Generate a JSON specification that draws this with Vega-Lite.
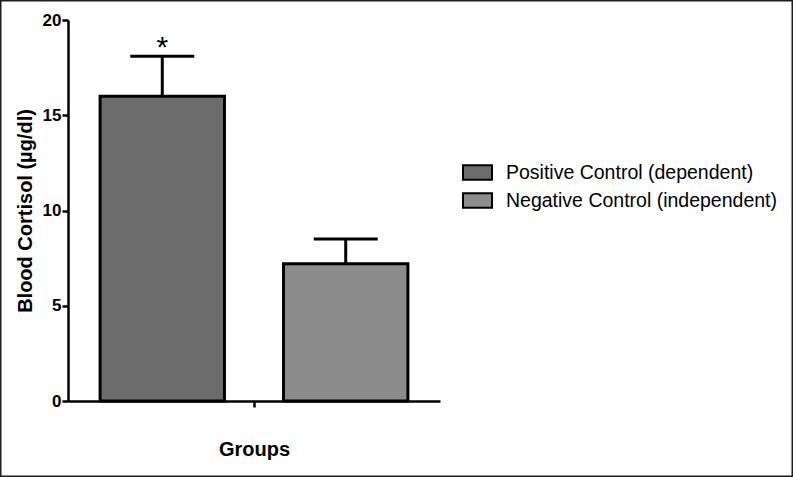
{
  "$schema": "https://vega.github.io/schema/vega-lite/v6.json",
  "width": 793,
  "height": 477,
  "autosize": "none",
  "padding": 0,
  "background": "white",
  "view": {"stroke": "#1e1e1e", "strokeWidth": 3, "fill": "white"},
  "config": {"font": "Liberation Sans"},
  "data": {
    "values": [
      {"group": "Positive Control (dependent)", "axis": "Groups", "mean": 16.0, "upper": 18.1, "sig": "*"},
      {"group": "Negative Control (independent)", "axis": "Groups", "mean": 7.2, "upper": 8.5, "sig": ""}
    ]
  },
  "encoding": {
    "x": {
      "field": "axis",
      "type": "nominal",
      "scale": {"range": [68, 440], "paddingInner": 0, "paddingOuter": 0},
      "axis": {
        "orient": "bottom",
        "offset": -76,
        "labels": false,
        "ticks": true,
        "tickSize": 6,
        "tickWidth": 2.5,
        "tickColor": "black",
        "domainColor": "black",
        "domainWidth": 2.5,
        "title": "Groups",
        "titleFont": "Liberation Sans",
        "titleFontSize": 20,
        "titleFontWeight": "bold",
        "titleColor": "black",
        "titlePadding": 31
      }
    },
    "xOffset": {
      "field": "group",
      "type": "nominal",
      "sort": ["Positive Control (dependent)", "Negative Control (independent)"],
      "scale": {"paddingInner": 0.322, "paddingOuter": 0.175}
    }
  },
  "layer": [
    {
      "mark": {"type": "bar", "stroke": "black", "strokeWidth": 3},
      "encoding": {
        "y": {
          "field": "mean",
          "type": "quantitative",
          "scale": {"domain": [0, 20], "range": [401, 20], "nice": false},
          "axis": {
            "orient": "left",
            "offset": -68,
            "values": [0, 5, 10, 15, 20],
            "grid": false,
            "tickSize": 6,
            "tickWidth": 2.5,
            "tickColor": "black",
            "domainColor": "black",
            "domainWidth": 2.5,
            "labelFont": "Liberation Sans",
            "labelFontSize": 17,
            "labelFontWeight": "bold",
            "labelColor": "black",
            "labelPadding": 1,
            "title": "Blood Cortisol (µg/dl)",
            "titleFont": "Liberation Sans",
            "titleFontSize": 20,
            "titleFontWeight": "bold",
            "titleColor": "black",
            "titlePadding": 7
          }
        },
        "fill": {
          "field": "group",
          "type": "nominal",
          "scale": {
            "domain": ["Positive Control (dependent)", "Negative Control (independent)"],
            "range": ["#6c6c6c", "#8c8c8c"]
          },
          "legend": {
            "orient": "none",
            "legendX": 462,
            "legendY": 157,
            "title": null,
            "symbolType": "M-1,-0.5H1V0.5H-1Z",
            "symbolSize": 841,
            "symbolStrokeColor": "black",
            "symbolStrokeWidth": 2,
            "labelFont": "Liberation Sans",
            "labelFontSize": 19.5,
            "labelColor": "black",
            "labelOffset": 13,
            "rowPadding": 1,
            "labelLimit": 400
          }
        }
      }
    },
    {
      "mark": {"type": "rule", "color": "black", "strokeWidth": 3},
      "encoding": {
        "y": {"field": "mean", "type": "quantitative"},
        "y2": {"field": "upper"}
      }
    },
    {
      "mark": {"type": "tick", "color": "black", "size": 64, "thickness": 3, "opacity": 1},
      "encoding": {
        "y": {"field": "upper", "type": "quantitative"}
      }
    },
    {
      "mark": {"type": "text", "fontSize": 30, "color": "black", "baseline": "alphabetic", "dy": 1},
      "encoding": {
        "y": {"field": "upper", "type": "quantitative"},
        "text": {"field": "sig"}
      }
    }
  ]
}
